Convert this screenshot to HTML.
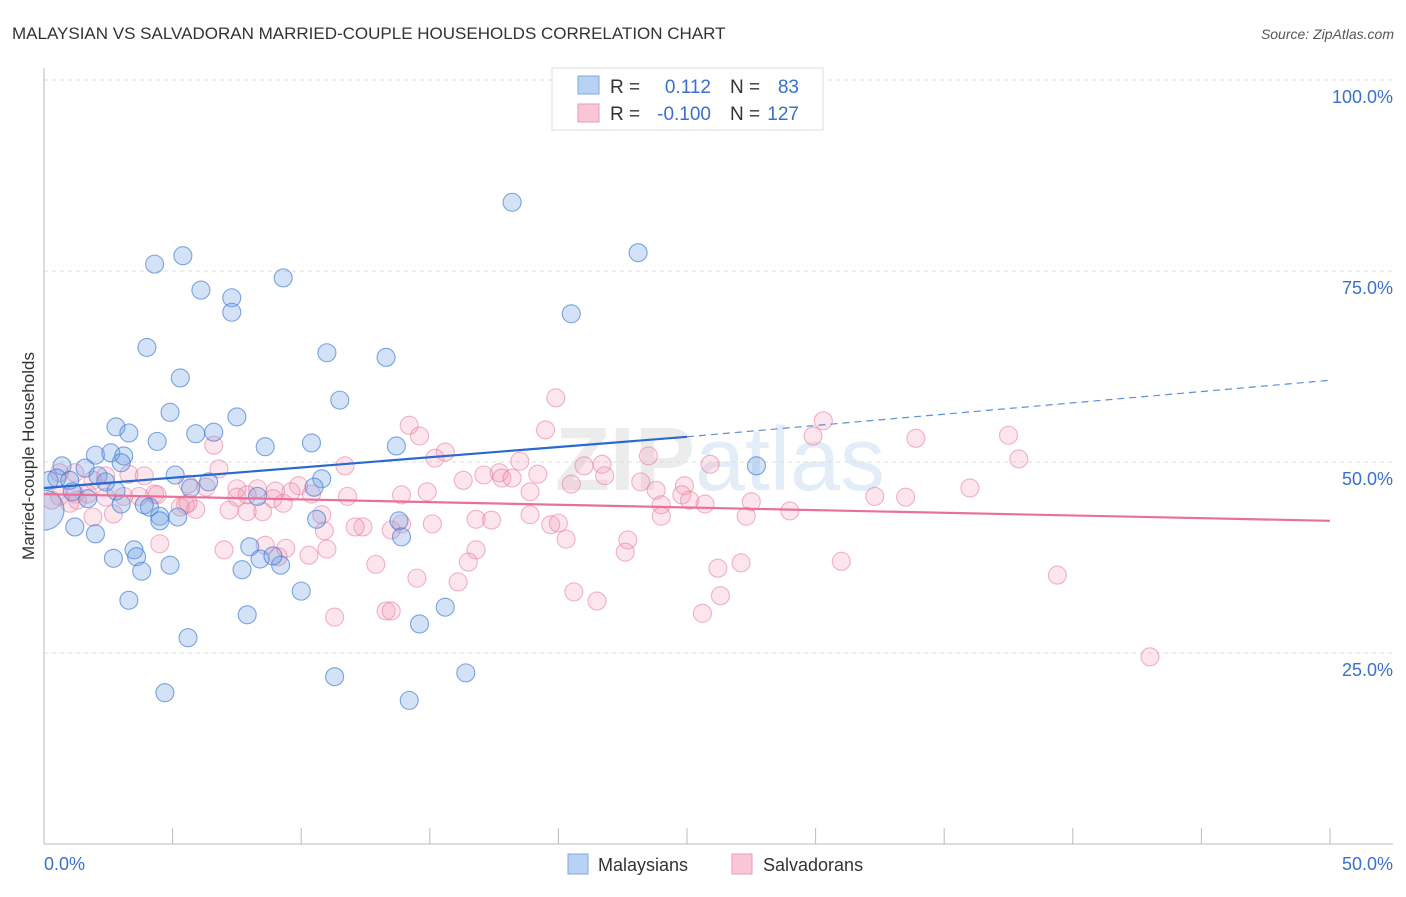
<!DOCTYPE html>
<html><head><meta charset="utf-8"><style>
body{margin:0;background:#fff;font-family:"Liberation Sans",sans-serif}
svg text{font-family:"Liberation Sans",sans-serif}
</style></head><body>
<svg id="chart" width="1406" height="892" xmlns="http://www.w3.org/2000/svg">
<defs><clipPath id="plotclip"><rect x="44" y="60" width="1360" height="784"/></clipPath></defs>
<text x="12" y="39" font-size="17" fill="#333">MALAYSIAN VS SALVADORAN MARRIED-COUPLE HOUSEHOLDS CORRELATION CHART</text>
<text x="1394" y="39" font-size="14" fill="#555" text-anchor="end" font-style="italic">Source: ZipAtlas.com</text>
<text x="720" y="490" font-size="90" fill="#ececec" text-anchor="middle" font-weight="bold">ZIP<tspan fill="#e3edf8" font-weight="normal">atlas</tspan></text>
<g id="grid"></g>
<g id="axes"></g>
<g id="pts" clip-path="url(#plotclip)"></g>
<g id="trends"></g>
<text transform="translate(34,456) rotate(-90)" font-size="17" fill="#333" text-anchor="middle">Married-couple Households</text>
<g>
<rect x="552" y="68" width="271" height="62" fill="#fff" stroke="#ddd"/>
<rect x="578" y="76" width="21" height="18" fill="#b8d2f3" stroke="#7ea8e0"/>
<rect x="578" y="104" width="21" height="18" fill="#f9c6d5" stroke="#ee9ab5"/>
<text x="610" y="93" font-size="19" fill="#333">R =</text>
<text x="711" y="93" font-size="19" fill="#3a70cc" text-anchor="end">0.112</text>
<text x="730" y="93" font-size="19" fill="#333">N =</text>
<text x="799" y="93" font-size="19" fill="#3a70cc" text-anchor="end">83</text>
<text x="610" y="120" font-size="19" fill="#333">R =</text>
<text x="711" y="120" font-size="19" fill="#3a70cc" text-anchor="end">-0.100</text>
<text x="730" y="120" font-size="19" fill="#333">N =</text>
<text x="799" y="120" font-size="19" fill="#3a70cc" text-anchor="end">127</text>
</g>
<g>
<rect x="568" y="854" width="20" height="20" fill="#b8d2f3" stroke="#7ea8e0"/>
<text x="598" y="871" font-size="18" fill="#333">Malaysians</text>
<rect x="732" y="854" width="20" height="20" fill="#f9c6d5" stroke="#ee9ab5"/>
<text x="763" y="871" font-size="18" fill="#333">Salvadorans</text>
</g>
</svg>
<script>
const xTicks=[0,5,10,15,20,25,30,35,40,45,50];
const yTicks=[25,50,75,100];
const yTickLabels=["25.0%","50.0%","75.0%","100.0%"];
const xEndLabels=["0.0%","50.0%"];
const blueX=[18.2,23.1,4.3,5.4,9.3,6.1,7.3,7.3,20.5,4.0,11.0,13.3,5.3,11.5,4.9,7.5,2.8,3.3,4.4,5.9,6.6,10.4,8.6,13.7,2.0,2.6,3.1,0.7,1.6,2.1,3.0,5.1,6.4,0.5,0.2,1.0,2.4,1.1,1.7,2.8,10.8,10.5,8.3,5.7,4.1,3.9,4.5,5.2,3.0,4.5,13.8,10.6,1.2,2.0,2.7,3.5,3.6,3.8,4.9,8.0,8.4,9.2,7.7,13.9,10.0,3.3,15.6,7.9,14.6,5.6,11.3,4.7,16.4,14.2,27.7,8.9,0];
const blueY=[84.0,77.4,75.9,77.0,74.1,72.5,71.5,69.6,69.4,65.0,64.3,63.7,61.0,58.1,56.5,55.9,54.6,53.8,52.7,53.7,53.9,52.5,52.0,52.1,50.9,51.2,50.8,49.5,49.2,48.2,49.9,48.3,47.4,47.9,47.6,47.6,47.4,46.1,45.2,46.2,47.8,46.7,45.5,46.6,44.1,44.4,42.9,42.8,44.5,42.3,42.3,42.5,41.5,40.6,37.4,38.5,37.6,35.7,36.5,38.9,37.3,36.5,35.9,40.2,33.1,31.9,31.0,30.0,28.8,27.0,21.9,19.8,22.4,18.8,49.5,37.7,43.7];
const pinkX=[19.9,30.3,14.2,14.6,19.5,29.9,33.9,37.5,23.5,15.6,15.2,6.6,37.9,18.5,25.9,11.7,21.7,21.0,21.8,17.7,19.2,17.8,17.1,16.3,18.2,6.8,3.9,3.3,2.4,1.9,1.2,0.6,5.6,6.3,7.5,9.9,9.6,10.4,9.0,8.3,7.5,8.9,7.9,11.8,13.9,14.9,18.9,20.5,23.2,23.8,24.9,24.8,25.1,25.7,27.5,29.0,32.3,33.5,36.0,24.0,24.0,27.3,16.8,17.4,18.9,19.7,20.0,20.3,15.1,13.9,13.5,12.4,12.1,10.9,10.8,9.3,8.5,7.9,7.2,5.5,5.3,4.3,4.4,3.7,3.1,2.4,1.7,1.2,0.6,0.3,1.9,2.7,5.6,5.9,22.7,22.6,4.5,7.0,8.6,9.4,10.3,11.0,9.1,16.8,16.5,12.9,14.5,16.1,20.6,21.5,26.2,27.1,31.0,39.4,13.3,13.5,11.3,25.6,26.3,43.0,1.0,1.3];
const pinkY=[58.4,55.4,54.8,53.4,54.2,53.4,53.1,53.5,50.8,51.3,50.5,52.2,50.4,50.1,49.7,49.5,49.7,49.5,48.2,48.6,48.4,47.9,48.3,47.6,47.9,49.1,48.2,48.4,48.2,47.6,48.6,48.6,47.1,46.7,46.5,46.9,46.1,45.8,46.2,46.5,45.4,45.2,45.7,45.5,45.7,46.1,46.1,47.1,47.4,46.3,46.9,45.7,45.0,44.5,44.8,43.6,45.5,45.4,46.6,44.4,42.9,42.9,42.5,42.4,43.1,41.8,42.0,39.9,41.9,41.9,41.1,41.5,41.5,41.0,43.1,44.6,43.5,43.5,43.7,44.4,44.1,45.8,45.7,45.5,45.5,45.4,45.8,45.8,45.5,45.0,42.8,43.2,44.6,43.8,39.8,38.2,39.3,38.5,39.1,38.7,37.8,38.6,37.6,38.5,36.9,36.6,34.8,34.3,33.0,31.8,36.1,36.8,37.0,35.2,30.5,30.5,29.7,30.2,32.5,24.5,44.6,45.0];
const blueTrendX=[0,25,50];
const blueTrendY=[46.6,53.3,60.7];
const pinkTrendX=[0,50];
const pinkTrendY=[45.8,42.3];

const NS="http://www.w3.org/2000/svg";
const X0=44,X1=1330,Y0=844,Y100=80;
const sx=v=>X0+(X1-X0)*v/50;
const sy=v=>Y0-(Y0-Y100)*v/100;
function mk(tag,attrs,parent){const e=document.createElementNS(NS,tag);for(const k in attrs)e.setAttribute(k,attrs[k]);parent.appendChild(e);return e;}
const grid=document.getElementById('grid'),axes=document.getElementById('axes'),pts=document.getElementById('pts'),tr=document.getElementById('trends');
yTicks.forEach((t,i)=>{
  const l=mk('line',{x1:X0,x2:1393,y1:sy(t),y2:sy(t),stroke:'#ddd','stroke-dasharray':'4,4'},grid);
  
  
  const tx=mk('text',{x:1393,y:sy(t)+23,'font-size':18,fill:'#3a70cc','text-anchor':'end'},axes);
  tx.textContent=yTickLabels[i];
  
  
});
const la=mk('line',{x1:X0,x2:X0,y1:68,y2:Y0,stroke:'#bbb'},axes);


const lb=mk('line',{x1:X0,x2:1393,y1:Y0,y2:Y0,stroke:'#bbb'},axes);


xTicks.forEach(t=>{
  const l=mk('line',{x1:sx(t),x2:sx(t),y1:828,y2:Y0,stroke:'#bbb'},axes);
  
  
});
const xl0=mk('text',{x:X0,y:870,'font-size':18,fill:'#3a70cc'},axes);xl0.textContent=xEndLabels[0];


const xl1=mk('text',{x:1393,y:870,'font-size':18,fill:'#3a70cc','text-anchor':'end'},axes);xl1.textContent=xEndLabels[1];


pinkX.forEach((v,i)=>{
  const c=mk('circle',{cx:sx(v),cy:sy(pinkY[i]),r:9,fill:'rgba(244,150,180,0.25)',stroke:'rgba(232,120,155,0.55)','stroke-width':1.1},pts);
  
  
});
blueX.forEach((v,i)=>{
  const big=(i===blueX.length-1);
  const c=mk('circle',{cx:sx(v),cy:sy(blueY[i]),r:big?20:9,fill:'rgba(110,160,230,0.3)',stroke:'rgba(60,120,210,0.65)','stroke-width':1.1},pts);
  
  
});
const b1=mk('line',{x1:sx(blueTrendX[0]),y1:sy(blueTrendY[0]),x2:sx(blueTrendX[1]),y2:sy(blueTrendY[1]),stroke:'#2a6ad0','stroke-width':2.2},tr);


const b2=mk('line',{x1:sx(blueTrendX[1]),y1:sy(blueTrendY[1]),x2:sx(blueTrendX[2]),y2:sy(blueTrendY[2]),stroke:'#5b8fd9','stroke-width':1.2,'stroke-dasharray':'7,5'},tr);


const p1=mk('line',{x1:sx(pinkTrendX[0]),y1:sy(pinkTrendY[0]),x2:sx(pinkTrendX[1]),y2:sy(pinkTrendY[1]),stroke:'#e8709a','stroke-width':2.2},tr);


</script>
</body></html>
